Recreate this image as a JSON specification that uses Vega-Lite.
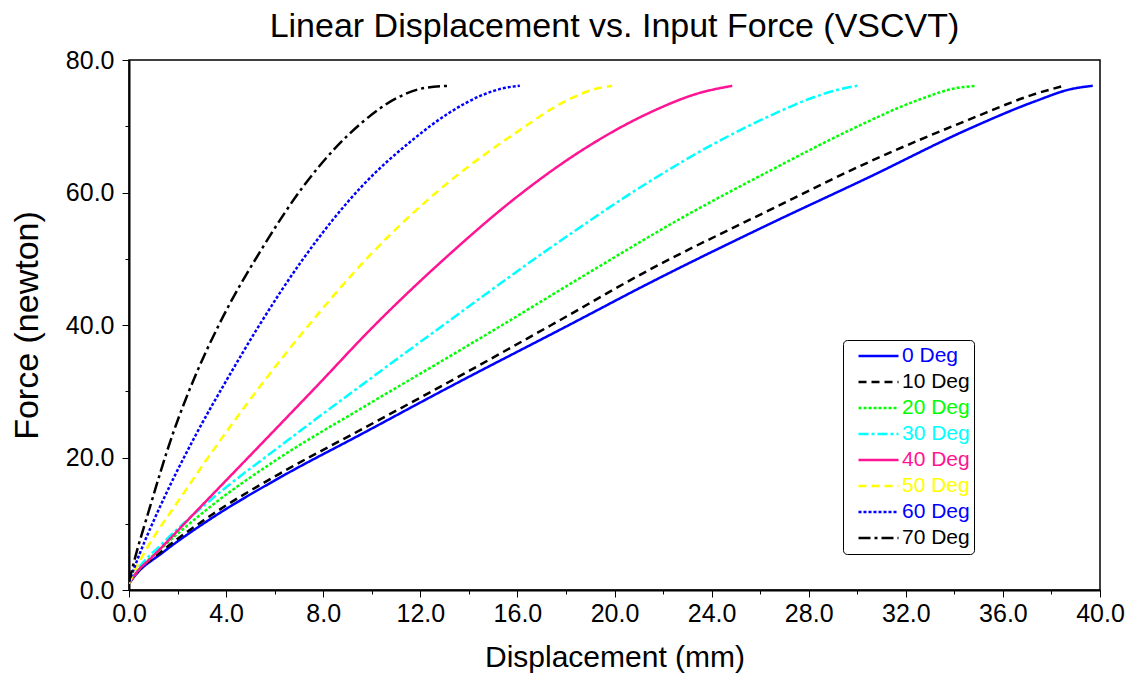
{
  "$schema": "https://vega.github.io/schema/vega-lite/v6.json",
  "width": 971,
  "height": 530,
  "autosize": {"type": "none"},
  "padding": {"left": 129, "top": 60, "right": 47, "bottom": 90},
  "background": "white",
  "config": {
    "font": "Liberation Sans",
    "view": {"stroke": "black", "strokeWidth": 1.5}
  },
  "title": {
    "text": "Linear Displacement vs. Input Force (VSCVT)",
    "fontSize": 34,
    "fontWeight": "normal",
    "font": "Liberation Sans",
    "color": "black",
    "offset": 4
  },
  "data": {
    "values": [
      {"angle": "0 Deg", "d": 0, "f": 1.0}, {"angle": "0 Deg", "d": 0.3, "f": 2.4}, {"angle": "0 Deg", "d": 1.37, "f": 5.6}, {"angle": "0 Deg", "d": 3.43, "f": 10.9}, {"angle": "0 Deg", "d": 6.18, "f": 16.9}, {"angle": "0 Deg", "d": 9.61, "f": 23.6}, {"angle": "0 Deg", "d": 13.18, "f": 30.6}, {"angle": "0 Deg", "d": 18.13, "f": 40.0}, {"angle": "0 Deg", "d": 21.42, "f": 46.3}, {"angle": "0 Deg", "d": 26.36, "f": 55.2}, {"angle": "0 Deg", "d": 30.48, "f": 62.3}, {"angle": "0 Deg", "d": 34.6, "f": 69.6}, {"angle": "0 Deg", "d": 37.35, "f": 73.8}, {"angle": "0 Deg", "d": 38.8, "f": 75.6}, {"angle": "0 Deg", "d": 39.7, "f": 76.1},
      {"angle": "10 Deg", "d": 0, "f": 1.0}, {"angle": "10 Deg", "d": 0.3, "f": 2.5}, {"angle": "10 Deg", "d": 1.37, "f": 5.9}, {"angle": "10 Deg", "d": 3.43, "f": 11.4}, {"angle": "10 Deg", "d": 6.18, "f": 17.5}, {"angle": "10 Deg", "d": 9.61, "f": 24.3}, {"angle": "10 Deg", "d": 13.18, "f": 31.4}, {"angle": "10 Deg", "d": 17.4, "f": 40.0}, {"angle": "10 Deg", "d": 21.42, "f": 48.3}, {"angle": "10 Deg", "d": 26.36, "f": 57.3}, {"angle": "10 Deg", "d": 30.48, "f": 64.6}, {"angle": "10 Deg", "d": 34.6, "f": 71.0}, {"angle": "10 Deg", "d": 37.35, "f": 74.9}, {"angle": "10 Deg", "d": 38.5, "f": 76.1},
      {"angle": "20 Deg", "d": 0, "f": 1.0}, {"angle": "20 Deg", "d": 0.3, "f": 2.6}, {"angle": "20 Deg", "d": 1.37, "f": 6.4}, {"angle": "20 Deg", "d": 3.43, "f": 12.8}, {"angle": "20 Deg", "d": 6.18, "f": 19.9}, {"angle": "20 Deg", "d": 9.61, "f": 27.5}, {"angle": "20 Deg", "d": 13.18, "f": 35.2}, {"angle": "20 Deg", "d": 15.38, "f": 40.0}, {"angle": "20 Deg", "d": 18.67, "f": 47.3}, {"angle": "20 Deg", "d": 22.79, "f": 56.2}, {"angle": "20 Deg", "d": 26.36, "f": 63.2}, {"angle": "20 Deg", "d": 29.8, "f": 69.6}, {"angle": "20 Deg", "d": 32.54, "f": 74.0}, {"angle": "20 Deg", "d": 34.0, "f": 75.7}, {"angle": "20 Deg", "d": 34.9, "f": 76.1},
      {"angle": "30 Deg", "d": 0, "f": 1.0}, {"angle": "30 Deg", "d": 0.3, "f": 2.8}, {"angle": "30 Deg", "d": 1.37, "f": 7.0}, {"angle": "30 Deg", "d": 3.43, "f": 13.8}, {"angle": "30 Deg", "d": 6.18, "f": 21.6}, {"angle": "30 Deg", "d": 9.61, "f": 31.0}, {"angle": "30 Deg", "d": 13.18, "f": 40.6}, {"angle": "30 Deg", "d": 17.3, "f": 51.5}, {"angle": "30 Deg", "d": 21.42, "f": 61.6}, {"angle": "30 Deg", "d": 24.17, "f": 67.5}, {"angle": "30 Deg", "d": 26.36, "f": 71.5}, {"angle": "30 Deg", "d": 28.15, "f": 74.3}, {"angle": "30 Deg", "d": 29.3, "f": 75.6}, {"angle": "30 Deg", "d": 30.0, "f": 76.1},
      {"angle": "40 Deg", "d": 0, "f": 1.0}, {"angle": "40 Deg", "d": 0.3, "f": 2.6}, {"angle": "40 Deg", "d": 0.96, "f": 5.0}, {"angle": "40 Deg", "d": 2.75, "f": 11.8}, {"angle": "40 Deg", "d": 5.49, "f": 22.2}, {"angle": "40 Deg", "d": 7.69, "f": 30.6}, {"angle": "40 Deg", "d": 10.02, "f": 39.6}, {"angle": "40 Deg", "d": 13.18, "f": 50.6}, {"angle": "40 Deg", "d": 15.93, "f": 59.2}, {"angle": "40 Deg", "d": 18.67, "f": 66.4}, {"angle": "40 Deg", "d": 21.42, "f": 72.0}, {"angle": "40 Deg", "d": 23.48, "f": 75.0}, {"angle": "40 Deg", "d": 24.85, "f": 76.1},
      {"angle": "50 Deg", "d": 0, "f": 1.0}, {"angle": "50 Deg", "d": 0.3, "f": 3.4}, {"angle": "50 Deg", "d": 0.69, "f": 6.0}, {"angle": "50 Deg", "d": 2.06, "f": 13.6}, {"angle": "50 Deg", "d": 3.84, "f": 23.0}, {"angle": "50 Deg", "d": 5.77, "f": 32.5}, {"angle": "50 Deg", "d": 7.41, "f": 40.0}, {"angle": "50 Deg", "d": 9.89, "f": 50.4}, {"angle": "50 Deg", "d": 13.18, "f": 61.6}, {"angle": "50 Deg", "d": 15.93, "f": 69.0}, {"angle": "50 Deg", "d": 17.99, "f": 73.8}, {"angle": "50 Deg", "d": 19.0, "f": 75.4}, {"angle": "50 Deg", "d": 19.9, "f": 76.1},
      {"angle": "60 Deg", "d": 0, "f": 1.2}, {"angle": "60 Deg", "d": 0.41, "f": 5.2}, {"angle": "60 Deg", "d": 1.37, "f": 13.3}, {"angle": "60 Deg", "d": 2.75, "f": 23.4}, {"angle": "60 Deg", "d": 4.12, "f": 32.3}, {"angle": "60 Deg", "d": 5.29, "f": 39.5}, {"angle": "60 Deg", "d": 7.14, "f": 49.8}, {"angle": "60 Deg", "d": 9.61, "f": 61.0}, {"angle": "60 Deg", "d": 11.67, "f": 67.9}, {"angle": "60 Deg", "d": 13.18, "f": 72.0}, {"angle": "60 Deg", "d": 14.55, "f": 74.7}, {"angle": "60 Deg", "d": 15.5, "f": 75.8}, {"angle": "60 Deg", "d": 16.1, "f": 76.1},
      {"angle": "70 Deg", "d": 0, "f": 1.2}, {"angle": "70 Deg", "d": 0.21, "f": 4.3}, {"angle": "70 Deg", "d": 0.82, "f": 12.0}, {"angle": "70 Deg", "d": 1.79, "f": 23.4}, {"angle": "70 Deg", "d": 2.75, "f": 32.5}, {"angle": "70 Deg", "d": 3.7, "f": 40.0}, {"angle": "70 Deg", "d": 5.49, "f": 51.6}, {"angle": "70 Deg", "d": 7.28, "f": 61.4}, {"angle": "70 Deg", "d": 9.61, "f": 70.6}, {"angle": "70 Deg", "d": 11.0, "f": 74.2}, {"angle": "70 Deg", "d": 12.2, "f": 75.8}, {"angle": "70 Deg", "d": 13.2, "f": 76.1}
    ]
  },
  "layer": [
    {
      "mark": {"type": "line", "strokeWidth": 2.5, "interpolate": "monotone", "clip": true},
      "encoding": {
        "x": {
          "field": "d", "type": "quantitative",
          "scale": {"domain": [0, 40], "nice": false, "zero": false},
          "axis": {
            "orient": "bottom",
            "title": "Displacement (mm)",
            "values": [0, 4, 8, 12, 16, 20, 24, 28, 32, 36, 40],
            "format": ".1f",
            "grid": false,
            "domainColor": "black", "domainWidth": 2,
            "tickColor": "black", "tickSize": 7, "tickWidth": 1,
            "labelFontSize": 25, "labelColor": "black", "labelPadding": 4, "labelFlush": false,
            "titleFontSize": 30, "titleFontWeight": "normal", "titleColor": "black", "titlePadding": 16
          }
        },
        "y": {
          "field": "f", "type": "quantitative",
          "scale": {"domain": [0, 80], "nice": false, "zero": false},
          "axis": {
            "orient": "left",
            "title": "Force (newton)",
            "values": [0, 20, 40, 60, 80],
            "format": ".1f",
            "grid": false,
            "domainColor": "black", "domainWidth": 2,
            "tickColor": "black", "tickSize": 7, "tickWidth": 1,
            "labelFontSize": 25, "labelColor": "black", "labelPadding": 8, "labelFlush": false,
            "titleFontSize": 34, "titleFontWeight": "normal", "titleColor": "black", "titlePadding": 21
          }
        },
        "color": {
          "field": "angle", "type": "nominal",
          "scale": {
            "domain": ["0 Deg", "10 Deg", "20 Deg", "30 Deg", "40 Deg", "50 Deg", "60 Deg", "70 Deg"],
            "range": ["#0000ff", "#000000", "#00ff00", "#00ffff", "#ff1493", "#ffff00", "#0000ff", "#000000"]
          },
          "legend": {
            "title": null,
            "orient": "none",
            "legendX": 714,
            "legendY": 280,
            "symbolType": "stroke",
            "symbolSize": 1600,
            "symbolStrokeWidth": 2.5,
            "symbolOffset": 10,
            "clipHeight": 24,
            "labelFontSize": 21,
            "labelFont": "Liberation Sans",
            "labelOffset": 2,
            "labelColor": {"expr": "['#0000ff','#000000','#00ff00','#00ffff','#ff1493','#ffff00','#0000ff','#000000'][indexof(['0 Deg','10 Deg','20 Deg','30 Deg','40 Deg','50 Deg','60 Deg','70 Deg'], datum.value)]"},
            "strokeColor": "black",
            "cornerRadius": 4,
            "padding": 4,
            "rowPadding": 2,
            "fillColor": "white"
          }
        },
        "strokeDash": {
          "field": "angle", "type": "nominal",
          "scale": {
            "domain": ["0 Deg", "10 Deg", "20 Deg", "30 Deg", "40 Deg", "50 Deg", "60 Deg", "70 Deg"],
            "range": [[1, 0], [8, 5], [3, 2], [10, 3, 3, 3], [1, 0], [8, 5], [3, 2], [12, 4, 3, 4]]
          }
        }
      }
    },
    {
      "mark": {"type": "line", "opacity": 0},
      "encoding": {
        "x": {
          "field": "d", "type": "quantitative",
          "axis": {
            "orient": "bottom", "title": null, "labels": false, "domain": false, "grid": false,
            "values": [2, 6, 10, 14, 18, 22, 26, 30, 34, 38],
            "tickColor": "black", "tickSize": 4, "tickWidth": 1
          }
        },
        "y": {
          "field": "f", "type": "quantitative",
          "axis": {
            "orient": "left", "title": null, "labels": false, "domain": false, "grid": false,
            "values": [10, 30, 50, 70],
            "tickColor": "black", "tickSize": 4, "tickWidth": 1
          }
        },
        "detail": {"field": "angle"}
      }
    }
  ],
  "resolve": {"axis": {"x": "independent", "y": "independent"}}
}
